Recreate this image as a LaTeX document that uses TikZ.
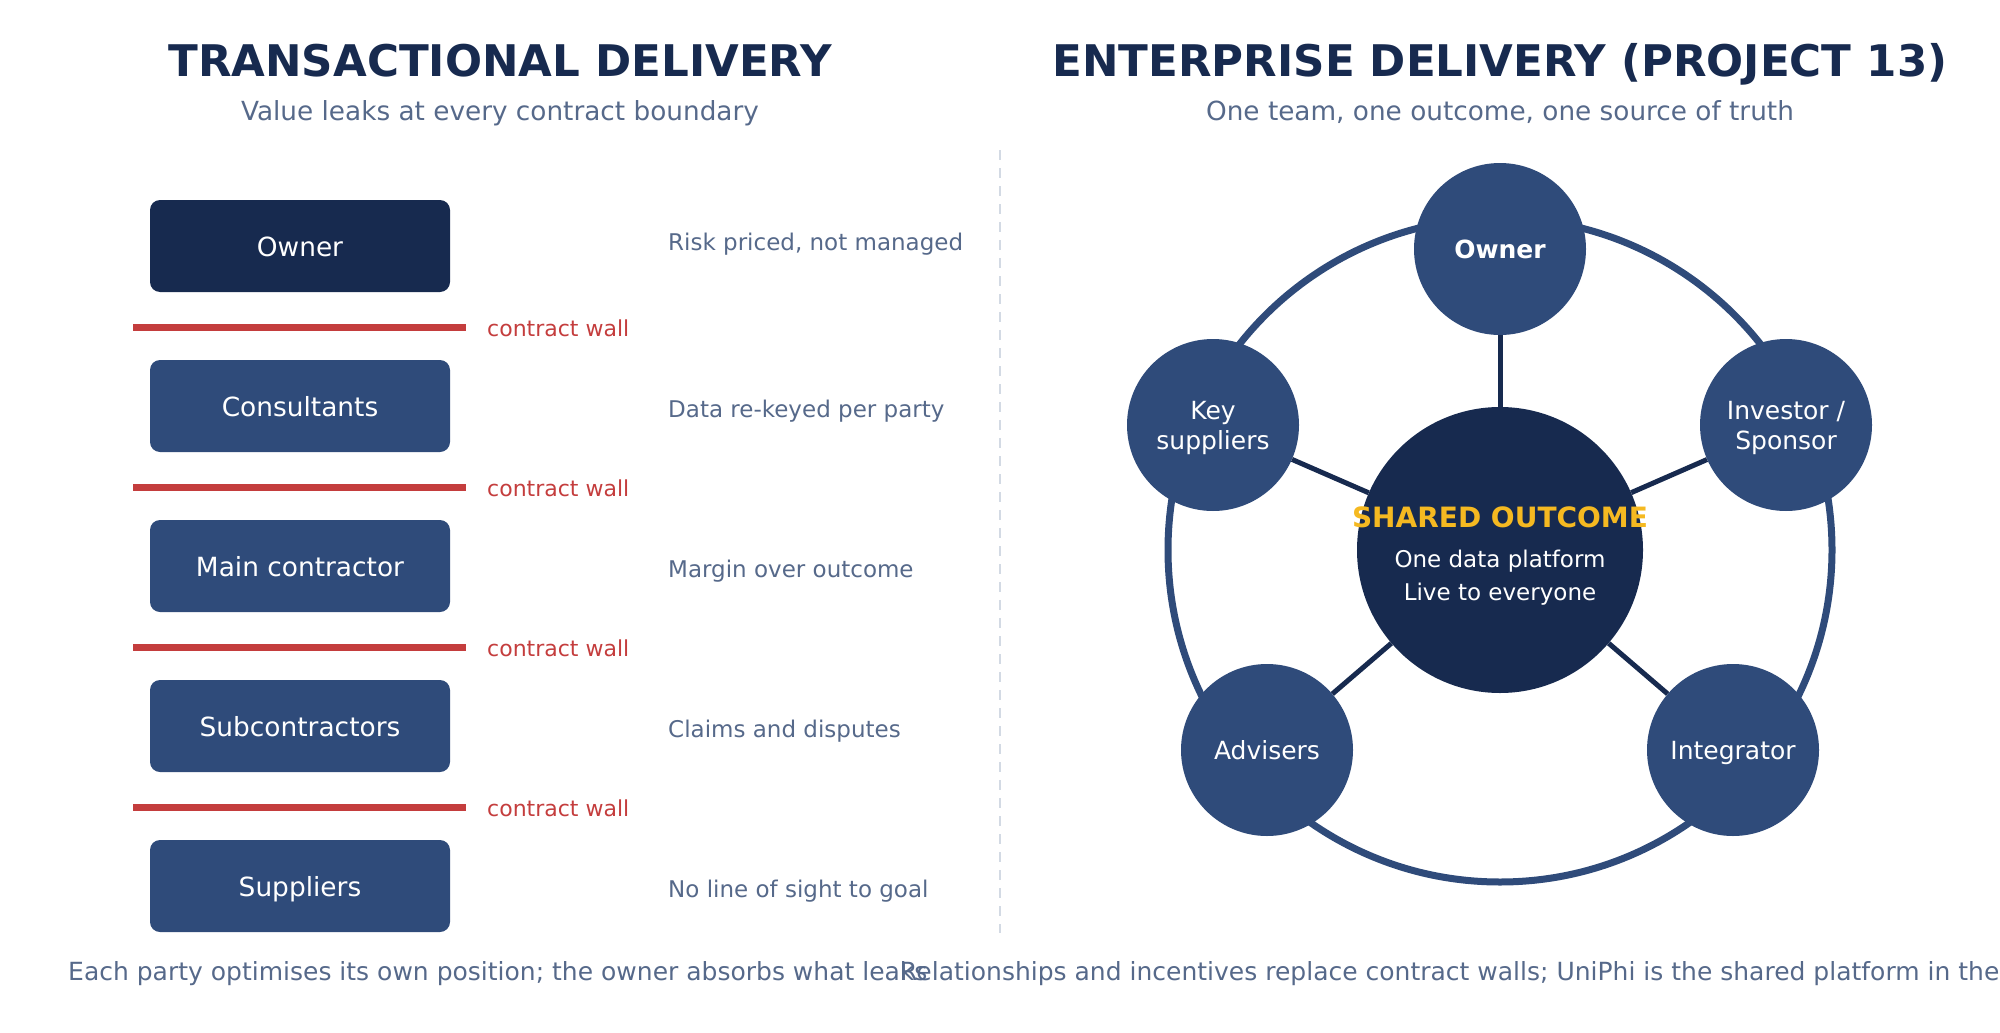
\documentclass[tikz,border=0pt]{standalone}
\usepackage{fontspec}
\setmainfont{DejaVu Sans}
\definecolor{navy}{HTML}{172A4F}
\definecolor{midblue}{HTML}{2F4B7A}
\definecolor{wallred}{HTML}{C43D3D}
\definecolor{gold}{HTML}{F5B921}
\definecolor{greytxt}{HTML}{56698A}
\definecolor{divgrey}{HTML}{D3DAE4}
\begin{document}
\begin{tikzpicture}[x=1pt,y=-1pt,
  titletext/.style={anchor=base, inner sep=0, text=navy, font=\fontsize{43.6}{50}\selectfont\bfseries},
  subtext/.style={anchor=base, inner sep=0, text=greytxt, font=\fontsize{26.3}{31}\selectfont},
  party/.style={rectangle, rounded corners=10pt, fill=midblue, minimum width=300pt, minimum height=92pt, inner sep=0, text=white, text height=21pt, text depth=0pt, font=\fontsize{26.4}{31}\selectfont},
  wall/.style={draw=wallred, line width=7pt},
  walllabel/.style={anchor=base west, inner sep=0, text=wallred, font=\fontsize{22}{26}\selectfont},
  note/.style={anchor=base west, inner sep=0, text=greytxt, font=\fontsize{23}{28}\selectfont},
  member/.style={circle, fill=midblue, minimum size=172pt, inner sep=0, text=white, align=center, text depth=0pt, font=\fontsize{25}{30}\selectfont},
  hub/.style={circle, fill=navy, minimum size=286pt, inner sep=0},
  spoke/.style={draw=navy, line width=5pt},
  ring/.style={draw=midblue, line width=7pt},
  hubtext/.style={anchor=base, inner sep=0, text=white, font=\fontsize{23}{27}\selectfont},
  foot/.style={anchor=base west, inner sep=0, text=greytxt, font=\fontsize{25}{29}\selectfont}
]
\useasboundingbox (0,0) rectangle (2000,1033);
\clip (0,0) rectangle (2000,1033);

% titles
\node[titletext] (tl) at (500,77) {TRANSACTIONAL DELIVERY};
\node[subtext] (sl) at (500,120) {Value leaks at every contract boundary};
\node[titletext] (tr) at (1500,77) {ENTERPRISE DELIVERY (PROJECT 13)};
\node[subtext] (sr) at (1500,120) {One team, one outcome, one source of truth};

% left column
\node[party, fill=navy] (p1) at (300,246) {Owner};
\node[party] (p2) at (300,406) {Consultants};
\node[party] (p3) at (300,566) {Main contractor};
\node[party] (p4) at (300,726) {Subcontractors};
\node[party] (p5) at (300,886) {Suppliers};

\foreach \y in {327,487,647,807}{
  \draw[wall] (133,\y) -- (466,\y);
  \node[walllabel] at (487,\y+9) {contract wall};
}

\node[note] (n1) at (668,250) {Risk priced, not managed};
\node[note] (n2) at (668,417) {Data re-keyed per party};
\node[note] (n3) at (668,577) {Margin over outcome};
\node[note] (n4) at (668,737) {Claims and disputes};
\node[note] (n5) at (668,897) {No line of sight to goal};

% divider
\draw[divgrey, line width=2.5pt, dash pattern=on 10pt off 8pt] (1000,150) -- (1000,933);

% right diagram
\draw[ring] (1500,550) circle[radius=332pt];
\node[hub] (hub) at (1500,550) {};
\node[member, font=\fontsize{25}{30}\selectfont\bfseries] (own) at (1500,249) {Owner};
\node[member] (key) at (1213,425) {Key\\suppliers};
\node[member] (inv) at (1786,425) {Investor /\\Sponsor};
\node[member] (adv) at (1267,750) {Advisers};
\node[member] (int) at (1733,750) {Integrator};

\draw[spoke] (hub) -- (own);
\draw[spoke] (hub) -- (key);
\draw[spoke] (hub) -- (inv);
\draw[spoke] (hub) -- (adv);
\draw[spoke] (hub) -- (int);

\node[hubtext, text=gold, font=\fontsize{28}{33}\selectfont\bfseries] (h1) at (1500,527) {SHARED OUTCOME};
\node[hubtext] (h2) at (1500,567) {One data platform};
\node[hubtext] (h3) at (1500,600) {Live to everyone};

% footers
\node[foot] (fl) at (68,980) {Each party optimises its own position; the owner absorbs what leaks};
\node[foot] (fr) at (900,980) {Relationships and incentives replace contract walls; UniPhi is the shared platform in the};
\end{tikzpicture}
\end{document}
